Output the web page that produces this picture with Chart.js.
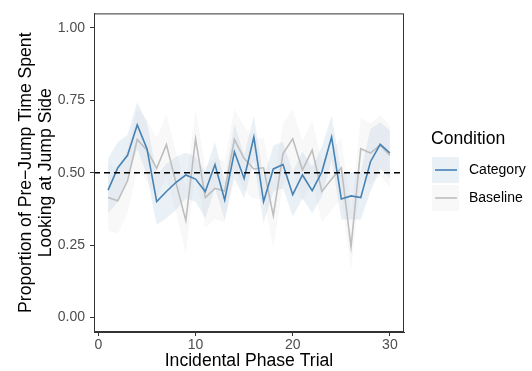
<!DOCTYPE html>
<html>
<head>
<meta charset="utf-8">
<script src="https://cdn.jsdelivr.net/npm/chart.js@4.4.1/dist/chart.umd.min.js"></script>
<style>
  body { margin: 0; background: #fff; }
  canvas { display: block; }
</style>
</head>
<body>
<canvas id="trialChart" width="532" height="371"></canvas>
<script>
// Trials and per-trial means / confidence bands
const trials = [1, 2, 3, 4, 5, 6, 7, 8, 9, 10, 11, 12, 13, 14, 15, 16, 17, 18, 19, 20, 21, 22, 23, 24, 25, 26, 27, 28, 29, 30];

const categoryMean = [0.44, 0.517, 0.56, 0.665, 0.583, 0.40, 0.435, 0.467, 0.492, 0.478, 0.435, 0.528, 0.406, 0.572, 0.48, 0.623, 0.40, 0.513, 0.528, 0.424, 0.492, 0.438, 0.503, 0.623, 0.409, 0.42, 0.414, 0.538, 0.598, 0.568];
const categoryUpper = [0.55, 0.606, 0.63, 0.743, 0.674, 0.49, 0.53, 0.555, 0.57, 0.555, 0.503, 0.606, 0.47, 0.669, 0.56, 0.697, 0.48, 0.594, 0.606, 0.503, 0.572, 0.52, 0.589, 0.697, 0.497, 0.503, 0.503, 0.652, 0.674, 0.646];
const categoryLower = [0.36, 0.40, 0.48, 0.583, 0.49, 0.32, 0.343, 0.372, 0.412, 0.40, 0.343, 0.446, 0.338, 0.48, 0.412, 0.543, 0.326, 0.435, 0.446, 0.349, 0.412, 0.36, 0.418, 0.543, 0.338, 0.338, 0.338, 0.435, 0.515, 0.48];

const baselineMean = [0.414, 0.403, 0.472, 0.615, 0.578, 0.515, 0.597, 0.463, 0.335, 0.617, 0.414, 0.446, 0.437, 0.615, 0.549, 0.513, 0.517, 0.352, 0.566, 0.617, 0.509, 0.578, 0.435, 0.478, 0.517, 0.244, 0.583, 0.568, 0.595, 0.56];
const baselineUpper = [0.53, 0.51, 0.58, 0.72, 0.68, 0.62, 0.70, 0.57, 0.45, 0.72, 0.52, 0.55, 0.54, 0.72, 0.66, 0.62, 0.62, 0.46, 0.67, 0.72, 0.61, 0.68, 0.54, 0.58, 0.62, 0.36, 0.69, 0.67, 0.70, 0.66];
const baselineLower = [0.30, 0.29, 0.36, 0.51, 0.47, 0.41, 0.49, 0.36, 0.22, 0.51, 0.31, 0.34, 0.33, 0.51, 0.44, 0.41, 0.41, 0.24, 0.46, 0.51, 0.40, 0.47, 0.33, 0.37, 0.41, 0.16, 0.48, 0.46, 0.49, 0.45];

const chanceLevel = 0.5;
const xTicks = [0, 10, 20, 30];
const yTicks = [0, 0.25, 0.5, 0.75, 1];
const legendLabels = ['Category', 'Baseline'];

const FONT = '"Liberation Sans", Arial, Helvetica, sans-serif';
const BLUE = '#4682B4';
const GREY = '#BEBEBE';
const BLUE_FILL = 'rgba(70, 130, 180, 0.12)';
const GREY_FILL = 'rgba(190, 190, 190, 0.1)';

function toPoints(values) {
    return trials.map((t, i) => ({ x: t, y: values[i] }));
}

function bandLine(values) {
    return {
        data: toPoints(values),
        borderColor: 'transparent',
        borderWidth: 0,
        pointRadius: 0,
        fill: false,
        order: 3
    };
}

// panel border, dashed chance line and legend
const panelPlugin = {
    id: 'panel',
    afterDatasetsDraw(chart) {
        const { ctx, chartArea: a, scales } = chart;
        const y = scales.y.getPixelForValue(chanceLevel);
        ctx.save();
        ctx.beginPath();
        ctx.rect(a.left, a.top, a.right - a.left, a.bottom - a.top);
        ctx.clip();
        ctx.strokeStyle = '#000';
        ctx.lineWidth = 1.6;
        ctx.setLineDash([6, 4]);
        ctx.beginPath();
        ctx.moveTo(a.left, y);
        ctx.lineTo(a.right, y);
        ctx.stroke();
        ctx.restore();

        ctx.save();
        ctx.strokeStyle = '#333';
        ctx.lineWidth = 1;
        ctx.strokeRect(a.left + 0.5, a.top + 0.5, a.right - a.left - 1, a.bottom - a.top - 1);
        ctx.restore();
    },
    afterDraw(chart) {
        const { ctx } = chart;
        ctx.save();
        ctx.fillStyle = '#000';
        ctx.font = '17.6px ' + FONT;
        ctx.textBaseline = 'middle';
        ctx.textAlign = 'left';
        ctx.fillText('Condition', 431, 139);

        const keys = [
            { fill: BLUE_FILL, line: BLUE },
            { fill: GREY_FILL, line: GREY }
        ];
        keys.forEach((k, i) => {
            const top = 157 + i * 28;
            ctx.fillStyle = '#fff';
            ctx.fillRect(432, top, 27, 26);
            ctx.fillStyle = k.fill;
            ctx.fillRect(432, top, 27, 26);
            ctx.strokeStyle = k.line;
            ctx.lineWidth = 1.6;
            ctx.beginPath();
            ctx.moveTo(435, top + 13);
            ctx.lineTo(457, top + 13);
            ctx.stroke();
            ctx.fillStyle = '#000';
            ctx.font = '14px ' + FONT;
            ctx.fillText(legendLabels[i], 469, top + 13.5);
        });
        ctx.restore();
    }
};

new Chart(document.getElementById('trialChart'), {
    type: 'line',
    data: {
        datasets: [
            bandLine(baselineLower),
            Object.assign(bandLine(baselineUpper), { fill: '-1', backgroundColor: GREY_FILL }),
            bandLine(categoryLower),
            Object.assign(bandLine(categoryUpper), { fill: '-1', backgroundColor: BLUE_FILL }),
            {
                label: legendLabels[1],
                data: toPoints(baselineMean),
                borderColor: GREY,
                borderWidth: 1.6,
                pointRadius: 0,
                fill: false,
                order: 2
            },
            {
                label: legendLabels[0],
                data: toPoints(categoryMean),
                borderColor: BLUE,
                borderWidth: 1.6,
                pointRadius: 0,
                fill: false,
                order: 1
            }
        ]
    },
    options: {
        responsive: false,
        animation: false,
        devicePixelRatio: 1,
        layout: { padding: { top: 11, right: 128, bottom: 0, left: 0 } },
        plugins: {
            legend: { display: false },
            tooltip: { enabled: false },
            filler: { drawTime: 'beforeDatasetsDraw' }
        },
        scales: {
            x: {
                type: 'linear',
                min: -0.45,
                max: 31.45,
                afterBuildTicks: s => { s.ticks = xTicks.map(v => ({ value: v })); },
                afterFit: s => { s.height = 39; },
                grid: { drawOnChartArea: false, drawTicks: true, tickLength: 4, color: '#333' },
                border: { display: true, color: '#333' },
                ticks: {
                    color: '#4D4D4D',
                    font: { family: FONT, size: 14 },
                    padding: 1,
                    maxRotation: 0
                },
                title: {
                    display: true,
                    text: 'Incidental Phase Trial',
                    color: '#000',
                    font: { family: FONT, size: 17.6, lineHeight: 1.15 },
                    padding: 0
                }
            },
            y: {
                min: -0.05,
                max: 1.05,
                afterBuildTicks: s => { s.ticks = yTicks.map(v => ({ value: v })); },
                afterFit: s => { s.width = 94; },
                grid: { drawOnChartArea: false, drawTicks: true, tickLength: 4, color: '#333' },
                border: { display: true, color: '#333' },
                ticks: {
                    color: '#4D4D4D',
                    font: { family: FONT, size: 14 },
                    padding: 5,
                    callback: v => v.toFixed(2)
                },
                title: {
                    display: true,
                    text: ['Proportion of Pre\u2212Jump Time Spent', 'Looking at Jump Side'],
                    color: '#000',
                    font: { family: FONT, size: 17.6, lineHeight: 1.15 },
                    padding: { top: 16, bottom: 0 }
                }
            }
        }
    },
    plugins: [panelPlugin]
});
</script>
</body>
</html>
